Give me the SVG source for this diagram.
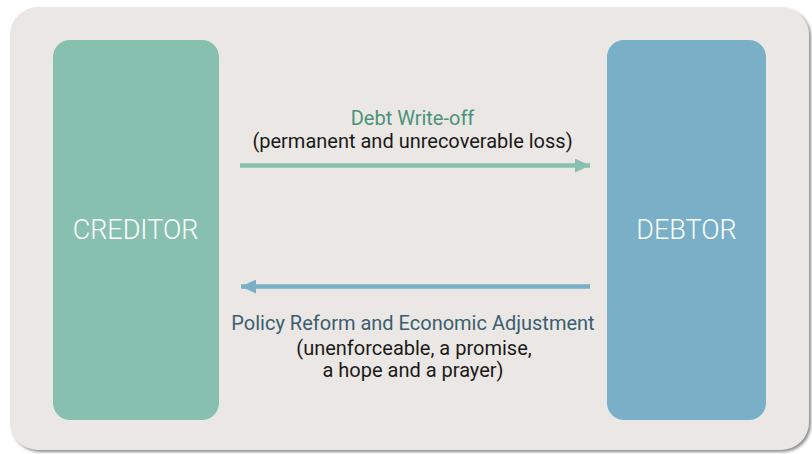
<svg xmlns="http://www.w3.org/2000/svg" width="812" height="454" viewBox="0 0 812 454">
  <defs>
    <filter id="panelShadow" x="-5%" y="-5%" width="110%" height="110%">
      <feDropShadow dx="2" dy="2" stdDeviation="1.5" flood-color="#6e6e6e" flood-opacity="0.8"/>
    </filter>
    <marker id="headGreen" viewBox="0 0 15 14" refX="15" refY="7" markerWidth="15" markerHeight="14" markerUnits="userSpaceOnUse" orient="auto">
      <path d="M0,0 L15,7 L0,14 Z" fill="#88c0b0"/>
    </marker>
    <marker id="headBlue" viewBox="0 0 15 14" refX="15" refY="7" markerWidth="15" markerHeight="14" markerUnits="userSpaceOnUse" orient="auto">
      <path d="M0,0 L15,7 L0,14 Z" fill="#7aafc8"/>
    </marker>
  </defs>
  <style>
    .party { font-family: Roboto, "Liberation Sans", sans-serif; font-weight: 300; font-size: 27px; fill: #ffffff; text-anchor: middle; }
    .label { font-family: Roboto, "Liberation Sans", sans-serif; font-size: 20px; text-anchor: middle; }
    .note { fill: #1a1a1a; }
    .green { fill: #4a937a; }
    .slate { fill: #3c5e70; }
  </style>

  <rect width="812" height="454" fill="#ffffff"/>
  <rect id="panel" x="10" y="7" width="799" height="443" rx="28" fill="#ebe7e4" filter="url(#panelShadow)"/>

  <g id="creditor">
    <rect x="53" y="40" width="166" height="380" rx="17" fill="#88c0b0"/>
    <text class="party" x="135.5" y="238.5">CREDITOR</text>
  </g>

  <g id="debtor">
    <rect x="607" y="40" width="159" height="380" rx="17" fill="#7aafc8"/>
    <text class="party" x="686.5" y="238.5">DEBTOR</text>
  </g>

  <g id="connectors">
    <line x1="240" y1="165.5" x2="590" y2="165.5" stroke="#88c0b0" stroke-width="4.5" marker-end="url(#headGreen)"/>
    <line x1="590" y1="286.5" x2="241" y2="286.5" stroke="#7aafc8" stroke-width="4.5" marker-end="url(#headBlue)"/>
  </g>

  <g id="writeoff-label">
    <text class="label green" x="412.5" y="125">Debt Write-off</text>
    <text class="label note" x="412.5" y="148">(permanent and unrecoverable loss)</text>
  </g>

  <g id="reform-label">
    <text class="label slate" x="413" y="330">Policy Reform and Economic Adjustment</text>
    <text class="label note" x="414" y="355">(unenforceable, a promise,</text>
    <text class="label note" x="413" y="377">a hope and a prayer)</text>
  </g>
</svg>
